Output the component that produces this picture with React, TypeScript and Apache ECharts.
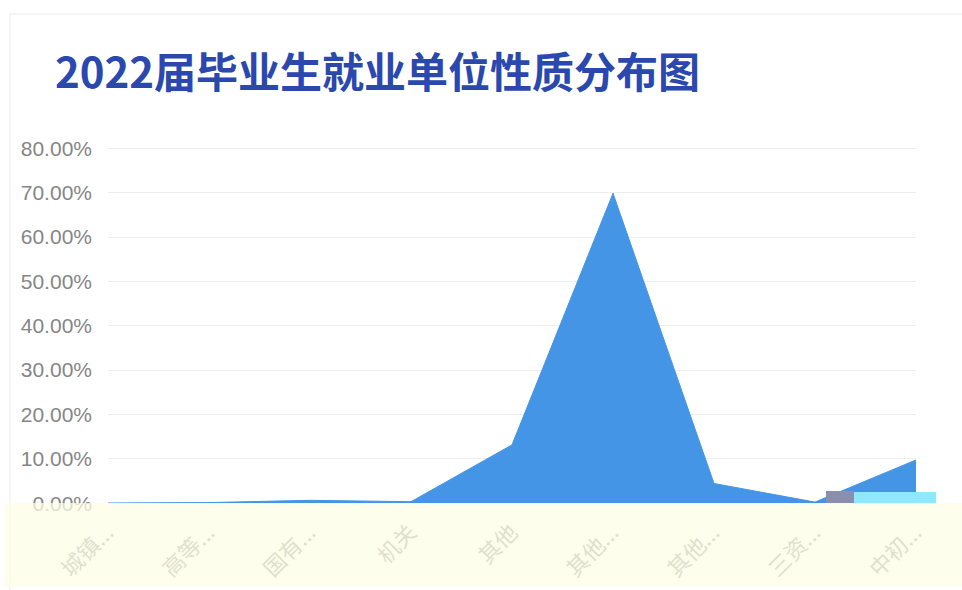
import React, { useEffect, useRef } from "react";
import * as echarts from "echarts";

const titleText = "2022届毕业生就业单位性质分布图";
const categories = [
  "城镇社区",
  "高等教育单位",
  "国有企业",
  "机关",
  "其他",
  "其他企业",
  "其他事业单位",
  "三资企业",
  "中初教育单位",
];
const shares = [0.0, 0.1, 0.6, 0.3, 13.1, 69.8, 4.4, 0.2, 9.7];
const yMin = 0;
const yMax = 80;
const yStep = 10;

export default function App() {
  const ref = useRef<HTMLDivElement>(null);
  useEffect(() => {
    if (!ref.current) return;
    const chart = echarts.init(ref.current, undefined, { renderer: "svg" });
    chart.setOption({
      animation: false,
      backgroundColor: "#ffffff",
      title: {
        text: titleText,
        left: 50,
        top: 43,
        textStyle: {
          fontFamily: "Noto Sans CJK SC",
          fontSize: 42,
          fontWeight: "bold",
          color: "#2a48ae",
        },
      },
      grid: { left: 108, right: 46, top: 148, bottom: 87 },
      xAxis: {
        type: "category",
        data: categories,
        boundaryGap: false,
        axisLine: { show: false },
        axisTick: { show: false },
        axisLabel: {
          rotate: 45,
          margin: 24,
          interval: 0,
          fontSize: 22,
          color: "#8a8a8a",
          fontFamily: "Noto Sans CJK SC",
          formatter: (v: string) => (v.length > 2 ? v.slice(0, 2) + "..." : v),
        },
      },
      yAxis: {
        type: "value",
        min: yMin,
        max: yMax,
        interval: yStep,
        axisLine: { show: false },
        axisTick: { show: false },
        splitLine: { lineStyle: { color: "#eeeeee", width: 1 } },
        axisLabel: {
          margin: 16,
          fontSize: 21,
          color: "#868686",
          fontFamily: "Liberation Sans",
          formatter: (v: number) => v.toFixed(2) + "%",
        },
      },
      series: [
        {
          type: "line",
          data: shares,
          showSymbol: false,
          symbol: "none",
          lineStyle: { color: "#4595e6", width: 1 },
          areaStyle: { color: "#4595e6", opacity: 1 },
          itemStyle: { color: "#4595e6" },
        },
      ],
      graphic: [
        {
          type: "rect",
          shape: { x: 10, y: 14, width: 970, height: 600 },
          style: { fill: "none", stroke: "#ebebeb", lineWidth: 1 },
          silent: true,
        },
        {
          type: "rect",
          z: 100,
          shape: { x: 5, y: 503, width: 957, height: 83 },
          style: { fill: "#fdfde6", opacity: 0.74 },
          silent: true,
        },
        {
          type: "rect",
          z: 101,
          shape: { x: 852, y: 492, width: 84, height: 11 },
          style: { fill: "#8ce9ff" },
          silent: true,
        },
        {
          type: "rect",
          z: 101,
          shape: { x: 826, y: 491, width: 28, height: 12 },
          style: { fill: "#8a8fae" },
          silent: true,
        },
      ],
    });
    return () => chart.dispose();
  }, []);
  return (
    <div
      ref={ref}
      style={{ position: "fixed", left: 0, top: 0, width: 962, height: 590 }}
    />
  );
}
